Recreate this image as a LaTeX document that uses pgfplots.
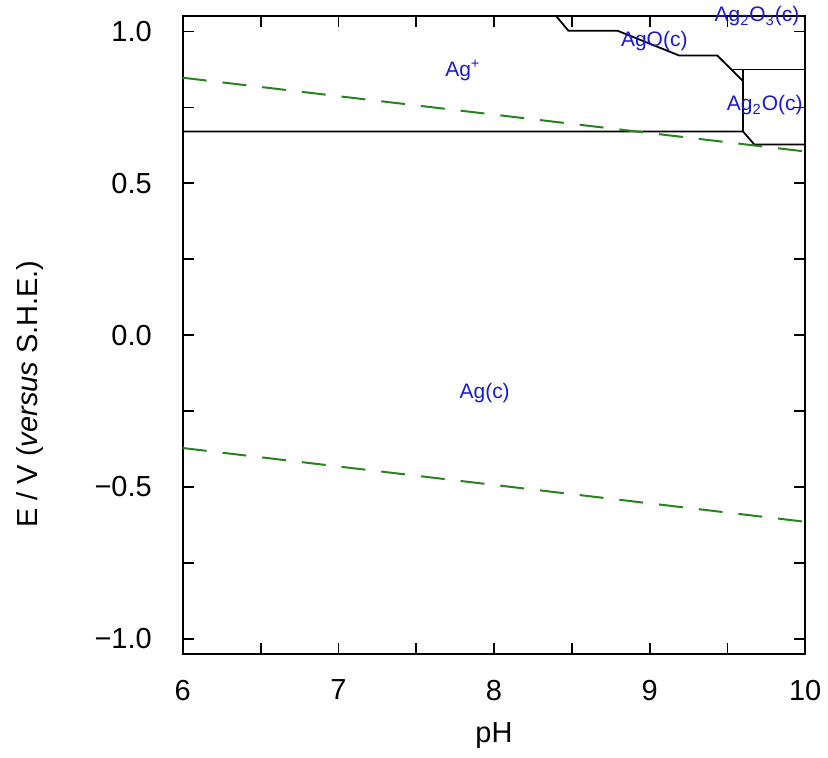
\documentclass[border=0pt]{standalone}
\usepackage{pgfplots}
\pgfplotsset{compat=1.18}
\usepackage{fontspec}
\setmainfont{Liberation Sans}
\definecolor{wgreen}{RGB}{40,130,30}
\definecolor{lblue}{RGB}{25,25,210}
\begin{document}
\begin{tikzpicture}
\begin{axis}[
  scale only axis,
  width=311.5pt, height=319pt,
  xmin=6, xmax=10, ymin=-1.05, ymax=1.05,
  xtick={6,7,8,9,10},
  ytick={-1,-0.5,0,0.5,1},
  yticklabels={−1.0,−0.5,0.0,0.5,1.0},
  minor x tick num=1, minor y tick num=1,
  tick align=inside,
  major tick length=5.5pt, minor tick length=5.5pt,
  tick style={black, line width=0.9pt},
  axis line style={line width=1pt},
  /pgf/number format/assume math mode=true,
  ticklabel style={font=\fontsize{14.5}{17}\selectfont},
  yticklabel style={anchor=east, xshift=-12pt},
  xticklabel style={anchor=north, yshift=-9.5pt},
  label style={font=\fontsize{14.5}{17}\selectfont},
  xlabel={pH},
  xlabel style={at={(axis description cs:0.5,-0.1285)}, anchor=center},
  ylabel={E / V (\textit{versus} S.H.E.)},
  ylabel style={at={(axis description cs:-0.2456,0.4075)}, anchor=center},
  clip=false,
]
\path (axis description cs:-0.2937,-0.163) (axis description cs:1,1);
\addplot[black, line width=0.9pt] coordinates {(6,0.671) (9.6,0.671) (9.673,0.628) (10,0.628)};
\addplot[black, line width=0.9pt] coordinates {(9.6,0.671) (9.6,0.875)};
\addplot[black, line width=0.9pt] coordinates {(9.531,0.875) (10,0.875)};
\addplot[black, line width=0.9pt] coordinates {(8.401,1.05) (8.478,1.003) (8.793,1.003) (9.191,0.921) (9.435,0.921) (9.596,0.839)};
\addplot[wgreen, line width=1pt, dash pattern=on 12pt off 8pt] coordinates {(6,0.848) (10,0.605)};
\addplot[wgreen, line width=1pt, dash pattern=on 12pt off 8pt] coordinates {(6,-0.372) (10,-0.615)};
\node[lblue, font=\fontsize{10.5}{12}\selectfont] at (axis cs:7.8,0.872) {Ag\textsuperscript{+}};
\node[lblue, font=\fontsize{10.5}{12}\selectfont] at (axis cs:9.03,0.97) {AgO(c)};
\node[lblue, font=\fontsize{10.5}{12}\selectfont] at (axis cs:9.69,1.05) {Ag\textsubscript{2}O\textsubscript{3}(c)};
\node[lblue, font=\fontsize{10.5}{12}\selectfont] at (axis cs:9.74,0.757) {Ag\textsubscript{2}O(c)};
\node[lblue, font=\fontsize{10.5}{12}\selectfont] at (axis cs:7.94,-0.191) {Ag(c)};
\end{axis}
\end{tikzpicture}
\end{document}
